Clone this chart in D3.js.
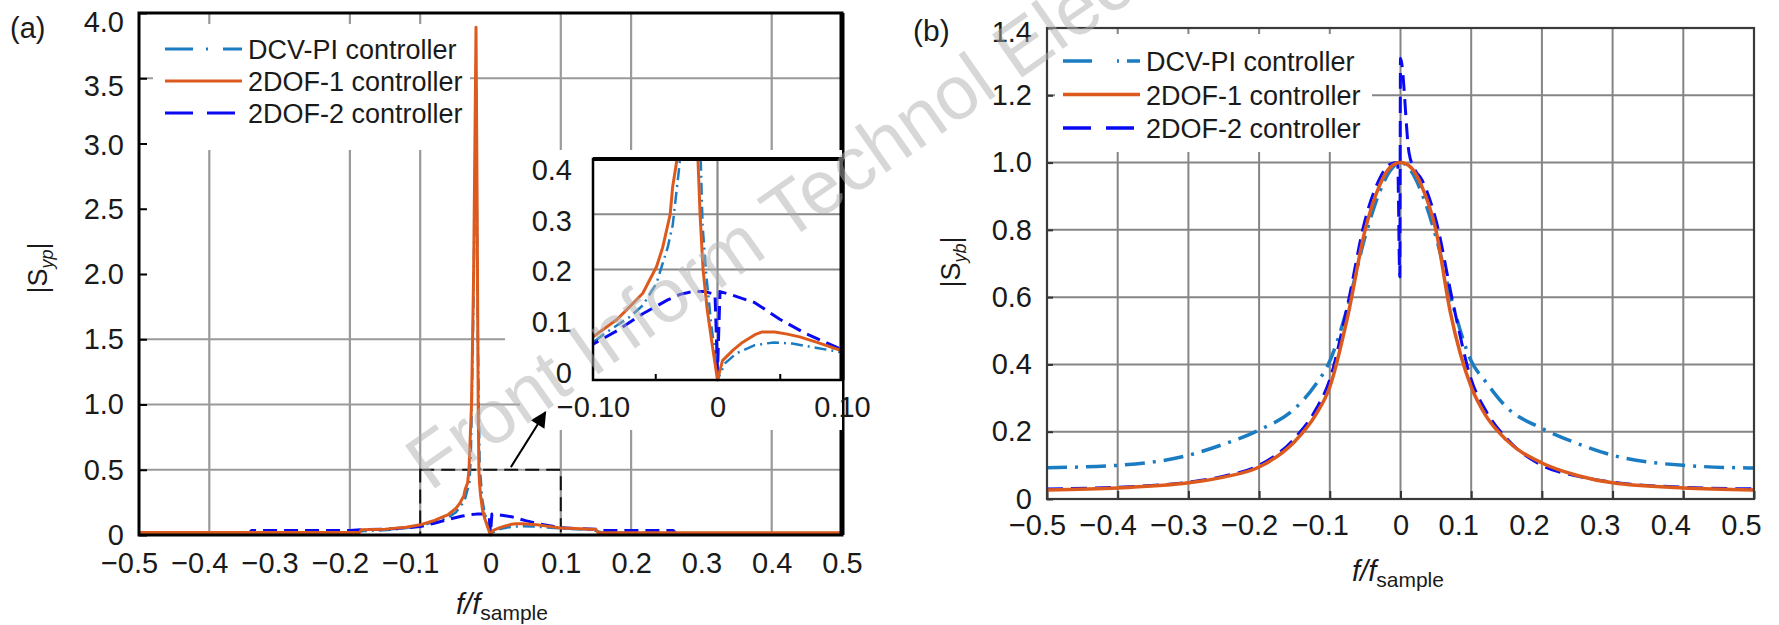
<!DOCTYPE html>
<html>
<head>
<meta charset="utf-8">
<style>
  body { margin: 0; background: #fff; }
  svg { display: block; font-family: "Liberation Sans", Arial, sans-serif; }
  .tick text { font-size: 29px; fill: #1a1a1a; }
</style>
</head>
<body>
<svg width="1779" height="625"></svg>

<script src="https://d3js.org/d3.v7.min.js"></script>
<script>
// ---- values ----
const seriesNames = ["DCV-PI controller", "2DOF-1 controller", "2DOF-2 controller"];

const fTicks = [-0.5, -0.4, -0.3, -0.2, -0.1, 0, 0.1, 0.2, 0.3, 0.4, 0.5];
const aYTicks = [0, 0.5, 1, 1.5, 2, 2.5, 3, 3.5, 4];
const aGridX = [-0.4, -0.2, -0.1, 0.1, 0.2, 0.4];
const aGridY = [0.5, 1, 1.5, 3.5];
const insetXTicks = [-0.1, 0, 0.1];
const insetMinor = [-0.05, 0.05];
const insetYTicks = [0, 0.1, 0.2, 0.3, 0.4];
const insetGridY = [0.2, 0.3];
const insetGridX = [0];
const bYTicks = [0, 0.2, 0.4, 0.6, 0.8, 1.0, 1.2, 1.4];
const bGridX = [-0.4, -0.3, -0.2, -0.1, 0, 0.1, 0.2, 0.3, 0.4];
const bGridY = [0.2, 0.4, 0.6, 0.8, 1.0, 1.2];
const zoomBox = [[-0.1, 0], [0.1, 0.5]];
const arrowPts = [[0.029, 0.52], [0.078, 0.94]];

// panel (a): |S_yp| vs f/f_sample
const aDcv = [[-0.5,0.008],[-0.2,0.015],[-0.18,0.03],[-0.14,0.04],[-0.1,0.068],[-0.09,0.085],[-0.08,0.1],
  [-0.07,0.115],[-0.06,0.135],[-0.049,0.175],[-0.04,0.24],[-0.036,0.28],[-0.03,0.4],[-0.028,0.6],
  [-0.025,1.5],[-0.0205,3.4],[-0.018,1.5],[-0.0155,0.55],[-0.0135,0.4],[-0.012,0.28],[-0.009,0.19],
  [-0.005,0.1],[-0.001,0.03],[0,0],[0.006,0.03],[0.015,0.048],[0.03,0.063],[0.045,0.068],[0.06,0.066],
  [0.08,0.058],[0.1,0.05],[0.14,0.04],[0.16,0.02],[0.3,0.012],[0.5,0.008]];
const aDof1 = [[-0.5,0.02],[-0.186,0.02],[-0.184,0.04],[-0.15,0.045],[-0.12,0.06],[-0.1,0.078],
  [-0.081,0.109],[-0.073,0.127],[-0.06,0.157],[-0.049,0.205],[-0.044,0.24],[-0.038,0.3],[-0.036,0.35],
  [-0.0325,0.4],[-0.0306,0.5],[-0.027,1.0],[-0.024,2.0],[-0.0206,3.89],[-0.019,2.5],[-0.0175,1.0],
  [-0.0165,0.5],[-0.0157,0.4],[-0.014,0.3],[-0.0116,0.2],[-0.0084,0.13],[-0.004,0.06],[0,0],
  [0.004,0.035],[0.0125,0.054],[0.02,0.068],[0.03,0.082],[0.036,0.087],[0.046,0.087],[0.056,0.083],
  [0.066,0.078],[0.08,0.068],[0.1,0.053],[0.12,0.05],[0.15,0.042],[0.153,0.018],[0.5,0.018]];
const aDof2 = [[-0.5,0.003],[-0.345,0.003],[-0.34,0.035],[-0.2,0.035],[-0.185,0.04],[-0.15,0.045],
  [-0.12,0.055],[-0.1,0.065],[-0.08,0.09],[-0.06,0.12],[-0.04,0.145],[-0.03,0.155],[-0.02,0.16],
  [-0.01,0.16],[-0.002,0.155],[0,0.015],[0.002,0.16],[0.01,0.155],[0.03,0.14],[0.05,0.11],[0.07,0.085],
  [0.09,0.065],[0.1,0.055],[0.12,0.05],[0.15,0.045],[0.16,0.035],[0.26,0.035],[0.265,0.004],[0.5,0.003]];

// panel (b): |S_yb| vs f/f_sample
const bDcv = [[-0.5,0.093],[-0.4,0.1],[-0.3,0.13],[-0.25,0.163],[-0.2,0.205],[-0.15,0.268],[-0.12,0.34],
  [-0.1,0.41],[-0.075,0.57],[-0.05,0.78],[-0.03,0.91],[-0.015,0.975],[0,1.0],[0.015,0.975],[0.03,0.91],
  [0.05,0.78],[0.075,0.57],[0.1,0.41],[0.12,0.35],[0.15,0.273],[0.2,0.21],[0.25,0.165],[0.3,0.13],
  [0.4,0.1],[0.5,0.092]];
const bDof1 = [[-0.5,0.027],[-0.4,0.033],[-0.3,0.048],[-0.25,0.065],[-0.2,0.095],[-0.15,0.17],[-0.12,0.25],
  [-0.1,0.333],[-0.075,0.54],[-0.05,0.8],[-0.03,0.93],[-0.015,0.985],[0,1.0],[0.015,0.985],[0.03,0.93],
  [0.05,0.8],[0.07,0.56],[0.1,0.333],[0.12,0.25],[0.15,0.175],[0.2,0.107],[0.25,0.07],[0.3,0.048],
  [0.4,0.033],[0.5,0.027]];
const bDof2 = [[-0.5,0.03],[-0.4,0.035],[-0.3,0.05],[-0.25,0.068],[-0.2,0.1],[-0.15,0.18],[-0.12,0.265],
  [-0.1,0.355],[-0.075,0.575],[-0.05,0.83],[-0.03,0.95],[-0.015,0.995],[-0.004,1.0],[-0.001,0.66],
  [0,1.31],[0.012,1.03],[0.02,0.98],[0.03,0.95],[0.05,0.83],[0.075,0.575],[0.1,0.355],[0.12,0.265],
  [0.15,0.18],[0.2,0.1],[0.25,0.068],[0.3,0.05],[0.4,0.035],[0.5,0.03]];

// ---- styles ----
const colors = ["#1b7cc2", "#dd5a1e", "#0a0af2"];
const aDash = ["12,5,2,5", null, "14,7"];
const bDash = ["20,8,3,8", null, "16,8"];
const aLegDash = ["28,13,2,15", null, "28,14"];
const bLegDash = ["29,25,2,8", null, "28,15"];

const svg = d3.select("svg");
svg.append("rect").attr("width", 1779).attr("height", 625).attr("fill", "#fff");

const xa = d3.scaleLinear().domain([-0.5, 0.5]).range([139, 842]);
const ya = d3.scaleLinear().domain([0, 4]).range([535, 13]);
const xi = d3.scaleLinear().domain([-0.1, 0.1]).range([593, 842]);
const yi = d3.scaleLinear().domain([0, 0.4]).range([380, 159]);
const xb = d3.scaleLinear().domain([-0.5, 0.5]).range([1047, 1754]);
const yb = d3.scaleLinear().domain([0, 1.4]).range([499, 28]);

const defs = svg.append("defs");
function clip(id, xs, ys) {
    defs.append("clipPath").attr("id", id).append("rect")
        .attr("x", xs.range()[0]).attr("y", ys.range()[1] - 1)
        .attr("width", xs.range()[1] - xs.range()[0])
        .attr("height", ys.range()[0] - ys.range()[1] + 3);
}
clip("clipA", xa, ya);
clip("clipI", xi, yi);
clip("clipB", xb, yb);

defs.append("marker").attr("id", "head")
    .attr("viewBox", "0 0 10 10").attr("refX", 9).attr("refY", 5)
    .attr("markerWidth", 20).attr("markerHeight", 16)
    .attr("markerUnits", "userSpaceOnUse").attr("orient", "auto")
    .append("path").attr("d", "M0,0L10,5L0,10z").attr("fill", "#000");

function fmt(digits) {
    return v => v === 0 ? "0" : (v < 0 ? "\u2212" : "") + Math.abs(v).toFixed(digits);
}

function grid(g, xs, ys, xv, yv, color, w) {
    g.append("g").selectAll("line").data(xv).join("line")
        .attr("x1", d => xs(d)).attr("x2", d => xs(d))
        .attr("y1", ys.range()[0]).attr("y2", ys.range()[1])
        .attr("stroke", color).attr("stroke-width", w);
    g.append("g").selectAll("line").data(yv).join("line")
        .attr("x1", xs.range()[0]).attr("x2", xs.range()[1])
        .attr("y1", d => ys(d)).attr("y2", d => ys(d))
        .attr("stroke", color).attr("stroke-width", w);
}

function frame(g, xs, ys, color, w) {
    g.append("rect")
        .attr("x", xs.range()[0]).attr("y", ys.range()[1])
        .attr("width", xs.range()[1] - xs.range()[0])
        .attr("height", ys.range()[0] - ys.range()[1])
        .attr("fill", "none").attr("stroke", color).attr("stroke-width", w);
}

function series(g, xs, ys, data, i, dash, w, clipId, curve) {
    const line = d3.line().x(d => xs(d[0])).y(d => ys(d[1])).curve(curve);
    g.append("path").datum(data)
        .attr("clip-path", `url(#${clipId})`)
        .attr("d", line)
        .attr("fill", "none")
        .attr("stroke", colors[i])
        .attr("stroke-width", w)
        .attr("stroke-dasharray", dash[i])
        .attr("stroke-linejoin", "round");
}

function legend(g, x0, y0, dy, dash, w) {
    seriesNames.forEach((name, i) => {
        const y = y0 + i * dy;
        g.append("line").attr("x1", x0).attr("x2", x0 + 77).attr("y1", y).attr("y2", y)
            .attr("stroke", colors[i]).attr("stroke-width", w)
            .attr("stroke-dasharray", dash[i]);
        g.append("text").attr("x", x0 + 83).attr("y", y + 10)
            .attr("font-size", 27).attr("fill", "#1a1a1a").text(name);
    });
}

function yTitle(x, y, sub) {
    const t = svg.append("text")
        .attr("transform", `translate(${x},${y}) rotate(-90)`)
        .attr("text-anchor", "middle").attr("font-size", 27).attr("fill", "#1a1a1a");
    t.append("tspan").text("|S");
    t.append("tspan").attr("font-size", 18).attr("font-style", "italic").attr("dy", 6).text(sub);
    t.append("tspan").attr("dy", -6).text("|");
}

function xTitle(x, y) {
    const t = svg.append("text").attr("x", x).attr("y", y)
        .attr("text-anchor", "middle").attr("font-size", 29).attr("fill", "#1a1a1a");
    t.append("tspan").attr("font-style", "italic").text("f/f");
    t.append("tspan").attr("font-size", 21).attr("dy", 6).text("sample");
}

// ================= panel (a) =================
const ga = svg.append("g");
grid(ga, xa, ya, aGridX, aGridY, "#9a9a9a", 2.2);

ga.append("rect")
    .attr("x", xa(zoomBox[0][0])).attr("y", ya(zoomBox[1][1]))
    .attr("width", xa(zoomBox[1][0]) - xa(zoomBox[0][0]))
    .attr("height", ya(zoomBox[0][1]) - ya(zoomBox[1][1]))
    .attr("fill", "none").attr("stroke", "#111").attr("stroke-width", 2)
    .attr("stroke-dasharray", "14,7");

const axA = ga.append("g").attr("transform", `translate(0,${ya(0)})`)
    .call(d3.axisBottom(xa).tickValues(fTicks).tickSize(0).tickPadding(17).tickFormat(fmt(1)));
axA.select(".domain").remove();
axA.selectAll(".tick text").attr("dx", d => d < 0 ? -10 : 0);

// the top labels of the original sit a little below their ticks
const aLabelShift = { 4: 9, 3.5: 8, 3: 2 };
const ayA = ga.append("g").attr("transform", `translate(${xa(-0.5)},0)`)
    .call(d3.axisLeft(ya).tickValues(aYTicks).tickSizeInner(-8).tickSizeOuter(0).tickPadding(15).tickFormat(fmt(1)));
ayA.select(".domain").remove();
ayA.selectAll(".tick line").attr("stroke", "#000").attr("stroke-width", 2);
ayA.selectAll(".tick text").attr("y", d => aLabelShift[d] || 0);

series(ga, xa, ya, aDcv, 0, aDash, 2.5, "clipA", d3.curveLinear);
series(ga, xa, ya, aDof2, 2, aDash, 3, "clipA", d3.curveLinear);
series(ga, xa, ya, aDof1, 1, aDash, 3, "clipA", d3.curveLinear);

ga.append("rect").attr("x", 153).attr("y", 24).attr("width", 317).attr("height", 126).attr("fill", "#fff");
legend(ga, 165, 49, 32, aLegDash, 3);

frame(ga, xa, ya, "#000", 3);
ga.append("line").attr("x1", xa(0.5)).attr("x2", xa(0.5)).attr("y1", ya(4)).attr("y2", ya(0))
    .attr("stroke", "#000").attr("stroke-width", 5);

// inset
const gi = svg.append("g");
gi.append("rect").attr("x", 505).attr("y", 150).attr("width", 337).attr("height", 245).attr("fill", "#fff");
gi.append("rect").attr("x", 520).attr("y", 395).attr("width", 322).attr("height", 35).attr("fill", "#fff");
grid(gi, xi, yi, insetGridX, insetGridY, "#8a8a8a", 2.2);

const axI = gi.append("g").attr("transform", `translate(0,${yi(0)})`)
    .call(d3.axisBottom(xi).tickValues(insetXTicks).tickSize(0).tickPadding(16).tickFormat(fmt(2)));
axI.select(".domain").remove();
const axI2 = gi.append("g").attr("transform", `translate(0,${yi(0)})`)
    .call(d3.axisBottom(xi).tickValues(insetMinor).tickSizeInner(-6).tickSizeOuter(0).tickFormat(""));
axI2.select(".domain").remove();
axI2.selectAll(".tick line").attr("stroke", "#000").attr("stroke-width", 2);

const ayI = gi.append("g").attr("transform", `translate(${xi(-0.1)},0)`)
    .call(d3.axisLeft(yi).tickValues(insetYTicks).tickSize(0).tickPadding(21).tickFormat(fmt(1)));
ayI.select(".domain").remove();
ayI.selectAll(".tick text").attr("y", d => -7 + 45 * d);

series(gi, xi, yi, aDcv, 0, aDash, 2.5, "clipI", d3.curveLinear);
series(gi, xi, yi, aDof2, 2, aDash, 3, "clipI", d3.curveLinear);
series(gi, xi, yi, aDof1, 1, aDash, 3, "clipI", d3.curveLinear);

frame(gi, xi, yi, "#000", 2.5);
gi.append("line").attr("x1", xi(-0.1)).attr("x2", xi(0.1)).attr("y1", yi(0.4)).attr("y2", yi(0.4))
    .attr("stroke", "#000").attr("stroke-width", 4);
gi.append("line").attr("x1", xi(0.1)).attr("x2", xi(0.1)).attr("y1", yi(0.4)).attr("y2", yi(0))
    .attr("stroke", "#000").attr("stroke-width", 5);

// arrow from the dashed box to the inset
svg.append("line")
    .attr("x1", xa(arrowPts[0][0])).attr("y1", ya(arrowPts[0][1]))
    .attr("x2", xa(arrowPts[1][0])).attr("y2", ya(arrowPts[1][1]))
    .attr("stroke", "#000").attr("stroke-width", 2).attr("marker-end", "url(#head)");

yTitle(47, 268, "yp");
xTitle(502, 614);
svg.append("text").attr("x", 10).attr("y", 38).attr("font-size", 29).attr("fill", "#1a1a1a").text("(a)");

// ================= panel (b) =================
const gb = svg.append("g");
grid(gb, xb, yb, bGridX, bGridY, "#858585", 2);

const axB = gb.append("g").attr("transform", `translate(0,${yb(0)})`)
    .call(d3.axisBottom(xb).tickValues(fTicks).tickSizeInner(-8).tickSizeOuter(0).tickPadding(15).tickFormat(fmt(1)));
axB.select(".domain").remove();
axB.selectAll(".tick line").attr("stroke", "#333").attr("stroke-width", 2);
axB.selectAll(".tick text").attr("dx", d => d === 0 ? 0 : (d < 0 ? -10 : -13));

const ayB = gb.append("g").attr("transform", `translate(${xb(-0.5)},0)`)
    .call(d3.axisLeft(yb).tickValues(bYTicks).tickSizeInner(-6).tickSizeOuter(0).tickPadding(15).tickFormat(fmt(1)));
ayB.select(".domain").remove();
ayB.selectAll(".tick line").attr("stroke", "#333").attr("stroke-width", 2);
ayB.selectAll(".tick text").attr("y", d => d === 1.4 ? 4 : 0);

series(gb, xb, yb, bDcv, 0, bDash, 3.5, "clipB", d3.curveMonotoneX);
series(gb, xb, yb, bDof2, 2, bDash, 3, "clipB", d3.curveMonotoneX);
series(gb, xb, yb, bDof1, 1, bDash, 3.5, "clipB", d3.curveMonotoneX);

gb.append("rect").attr("x", 1055).attr("y", 34).attr("width", 317).attr("height", 118).attr("fill", "#fff");
legend(gb, 1063, 61, 33.5, bLegDash, 3.5);

frame(gb, xb, yb, "#3a3a3a", 2.2);

yTitle(960, 262, "yb");
xTitle(1398, 581);
svg.append("text").attr("x", 913).attr("y", 41).attr("font-size", 30).attr("fill", "#1a1a1a").text("(b)");

// watermark
svg.append("text")
    .attr("transform", "translate(430,492) rotate(-35)")
    .attr("font-size", 76).attr("fill", "#b0b0b0").attr("opacity", 0.5)
    .text("Front Inform Technol Elec");
</script>
</body>
</html>
